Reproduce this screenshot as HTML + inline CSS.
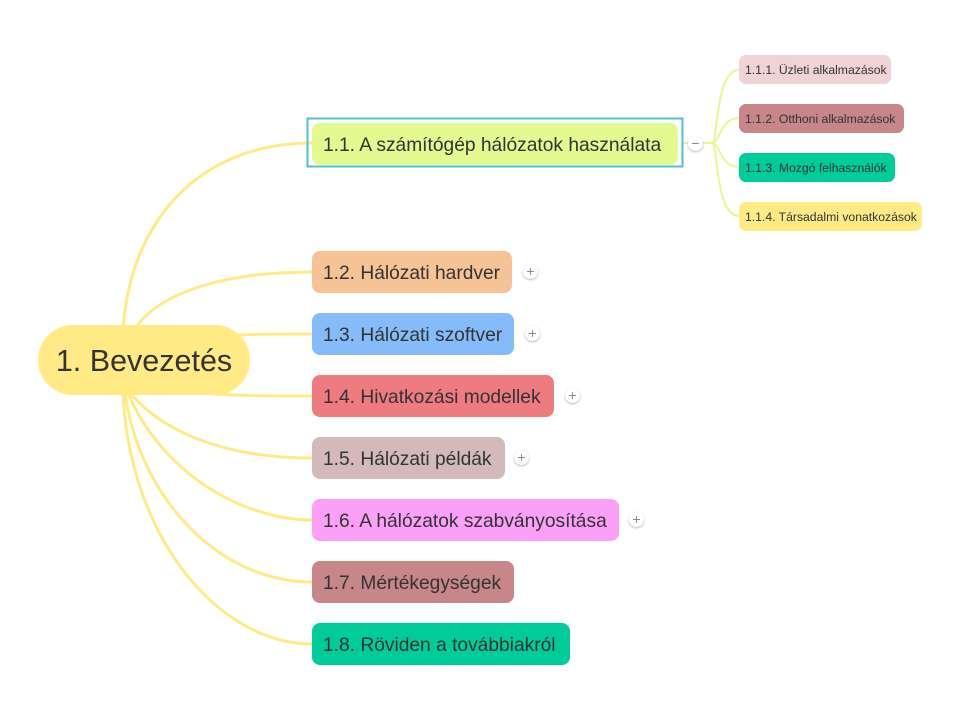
<!DOCTYPE html>
<html><head><meta charset="utf-8"><style>
body{margin:0;width:980px;height:728px;background:#fff;position:relative;overflow:hidden;font-family:"Liberation Sans",sans-serif;}
.n{position:absolute;border-radius:8px;color:#333;font-size:19.2px;line-height:45px;padding-left:11px;box-sizing:border-box;white-space:nowrap;height:42px;}
.s{position:absolute;border-radius:7px;color:#333;font-size:12.2px;box-sizing:border-box;white-space:nowrap;padding-left:6px;height:29px;line-height:30px;}
.p{position:absolute;width:15px;height:15px;border-radius:50%;background:#fff;box-shadow:0 1px 2px rgba(0,0,0,.3);color:#888;font-size:14px;line-height:15px;text-align:center;}
</style></head><body>
<svg width="980" height="728" style="position:absolute;left:0;top:0" fill="none">
<g stroke="#ffea85" stroke-width="3">
<path d="M123,330 C130,220 200,143 312,143"/>
<path d="M134,330 C160,290 230,272 312,272"/>
<path d="M195,338 C230,334 270,334 312,334"/>
<path d="M190,392 C230,396 270,396 312,396"/>
<path d="M130,393 C170,440 240,458 312,458"/>
<path d="M128,393 C160,470 240,520 312,520"/>
<path d="M125,393 C140,500 220,582 312,582"/>
<path d="M123,393 C130,540 220,644 312,644"/>
</g>
<g stroke="#e4f98f" stroke-width="2">
<path d="M683,143 L712,143"/>
<path d="M712,143 C718,143 715,70 739,70"/>
<path d="M712,143 C720,143 720,118 739,118"/>
<path d="M712,143 C720,143 720,167 739,167"/>
<path d="M712,143 C718,143 715,216 739,216"/>
</g>
<rect x="307.5" y="118.5" width="375" height="48" stroke="#4fc3c9" stroke-width="2"/>
</svg>
<div style="position:absolute;left:38px;top:325px;width:212px;height:70px;border-radius:35px;background:#ffea85;color:#333;font-size:30.5px;line-height:72px;text-align:center;">1. Bevezetés</div>
<div class="n" style="left:312px;top:123px;width:366px;background:#e4f98f">1.1. A számítógép hálózatok használata</div>
<div class="n" style="left:312px;top:251px;width:200px;background:#f5c396">1.2. Hálózati hardver</div>
<div class="n" style="left:312px;top:313px;width:202px;background:#86bbfa">1.3. Hálózati szoftver</div>
<div class="n" style="left:312px;top:375px;width:242px;background:#ee7b80">1.4. Hivatkozási modellek</div>
<div class="n" style="left:312px;top:437px;width:193px;background:#d4b9bb">1.5. Hálózati példák</div>
<div class="n" style="left:312px;top:499px;width:307px;background:#fba0f6">1.6. A hálózatok szabványosítása</div>
<div class="n" style="left:312px;top:561px;width:202px;background:#c6868a">1.7. Mértékegységek</div>
<div class="n" style="left:312px;top:623px;width:258px;background:#00cc99">1.8. Röviden a továbbiakról</div>
<div class="p" style="left:523px;top:264px">+</div>
<div class="p" style="left:525px;top:326px">+</div>
<div class="p" style="left:565px;top:388px">+</div>
<div class="p" style="left:514px;top:450px">+</div>
<div class="p" style="left:629px;top:512px">+</div>
<div class="p" style="left:688px;top:136px">−</div>
<div class="s" style="left:739px;top:55px;width:152px;background:#efd3d5">1.1.1. Üzleti alkalmazások</div>
<div class="s" style="left:739px;top:104px;width:165px;background:#c6868a">1.1.2. Otthoni alkalmazások</div>
<div class="s" style="left:739px;top:153px;width:156px;background:#00cc99">1.1.3. Mozgó felhasználók</div>
<div class="s" style="left:739px;top:202px;width:183px;background:#ffeb85">1.1.4. Társadalmi vonatkozások</div>
</body></html>
